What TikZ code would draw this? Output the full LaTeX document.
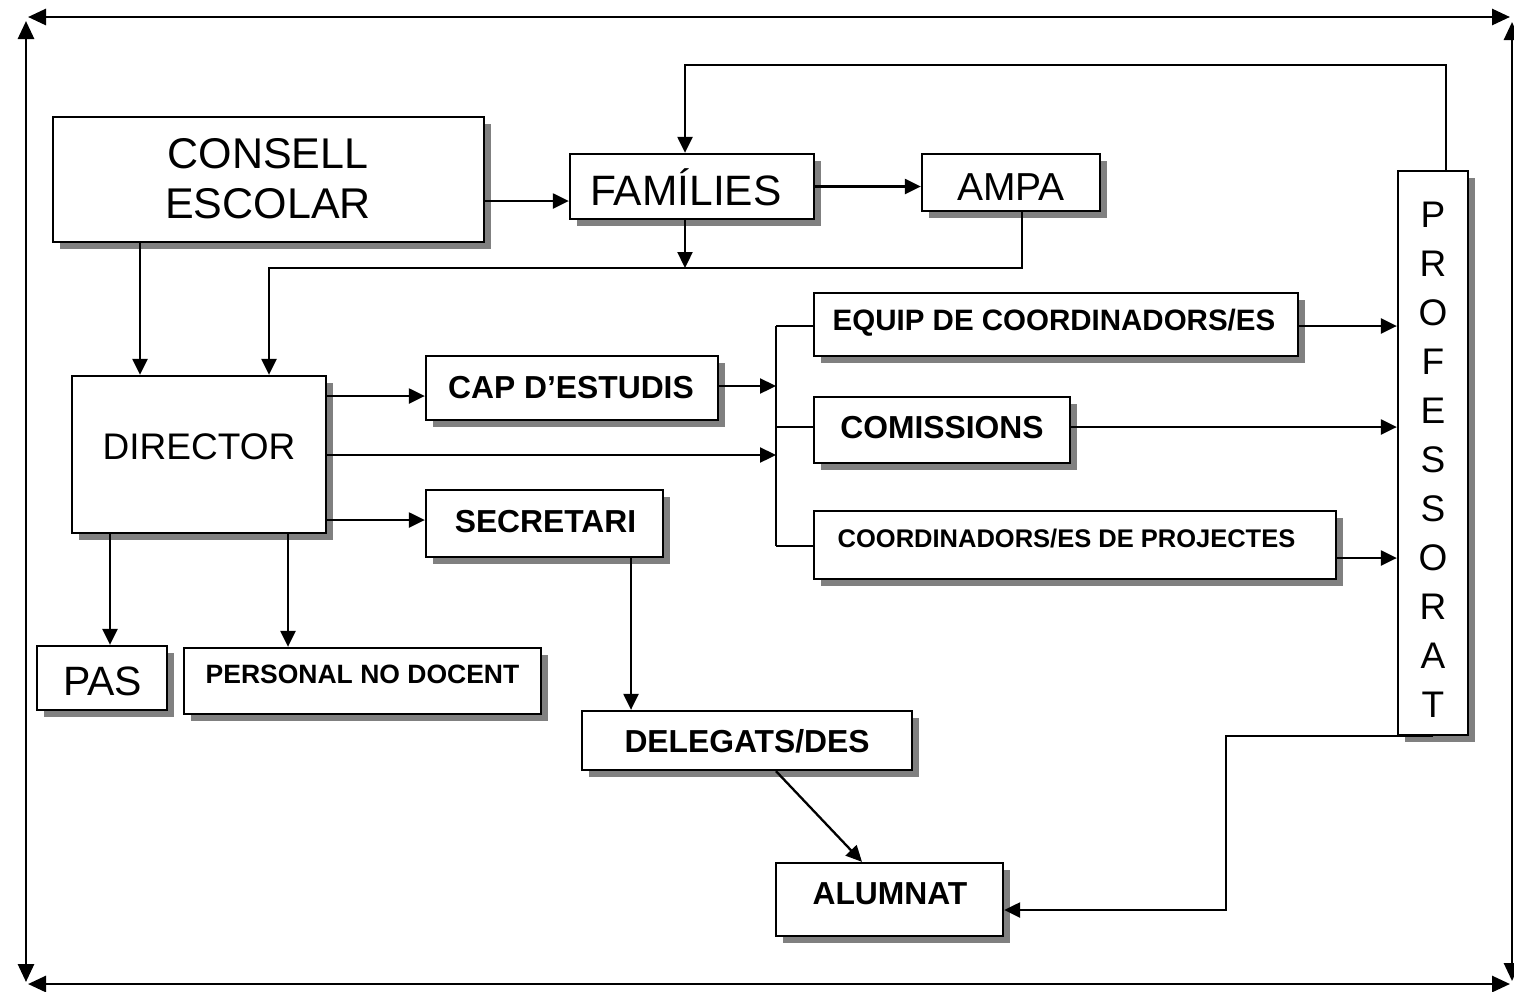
\documentclass[tikz,border=0pt]{standalone}
\usepackage{fontspec}
\setmainfont{Liberation Sans}
\usetikzlibrary{arrows.meta,shadows}
\begin{document}
\begin{tikzpicture}[x=1pt,y=-1pt,
  box/.style={draw, line width=2.3pt, fill=white, inner sep=0pt, rectangle,
     drop shadow={shadow xshift=7pt,shadow yshift=-7pt,fill=gray,opacity=1}},
  ln/.style={line width=2.3pt},
  arr/.style={line width=2.3pt, -{Triangle[length=16pt,width=15pt]}},
  frm/.style={line width=2.8pt, {Triangle[length=18pt,width=16pt]}-{Triangle[length=18pt,width=16pt]}},
  big/.style={anchor=base, inner sep=0pt, font=\fontsize{43}{49}\selectfont},
  mid/.style={anchor=base, inner sep=0pt, font=\fontsize{37}{49}\selectfont},
  bld/.style={anchor=base, inner sep=0pt, font=\fontsize{31.8}{36}\selectfont\bfseries},
  sml/.style={anchor=base, inner sep=0pt, font=\fontsize{26.5}{30}\selectfont\bfseries}
]
\useasboundingbox (0,0) rectangle (1514,991);

% outer frame
\coordinate (fTL1) at (28,17);  \coordinate (fTR1) at (1510,17);
\coordinate (fTL2) at (26,21);  \coordinate (fBL2) at (26,982);
\coordinate (fTR2) at (1512,22); \coordinate (fBR2) at (1512,981);
\coordinate (fBL1) at (28,984); \coordinate (fBR1) at (1510,984);
\draw[frm] (fTL1) -- (fTR1);
\draw[frm] (fTL2) -- (fBL2);
\draw[frm] (fTR2) -- (fBR2);
\draw[frm] (fBL1) -- (fBR1);

% boxes
\node[box, minimum width=431pt, minimum height=125pt] (consell) at (268.5,179.5) {};
\node[box, minimum width=244pt, minimum height=65pt]  (fam)     at (692,186.5) {};
\node[box, minimum width=178pt, minimum height=57pt]  (ampa)    at (1011,182.5) {};
\node[box, minimum width=70pt,  minimum height=564pt] (prof)    at (1433,453) {};
\node[box, minimum width=484pt, minimum height=63pt]  (equip)   at (1056,324.5) {};
\node[box, minimum width=292pt, minimum height=64pt]  (cap)     at (572,388) {};
\node[box, minimum width=256pt, minimum height=66pt]  (comis)   at (942,430) {};
\node[box, minimum width=254pt, minimum height=157pt] (dir)     at (199,454.5) {};
\node[box, minimum width=237pt, minimum height=67pt]  (secr)    at (544.5,523.5) {};
\node[box, minimum width=522pt, minimum height=68pt]  (coord)   at (1075,545) {};
\node[box, minimum width=130pt, minimum height=64pt]  (pas)     at (102,678) {};
\node[box, minimum width=357pt, minimum height=66pt]  (pers)    at (362.5,681) {};
\node[box, minimum width=330pt, minimum height=59pt]  (deleg)   at (747,740.5) {};
\node[box, minimum width=227pt, minimum height=73pt]  (alum)    at (889.5,899.5) {};

% texts
\node[big] (consellA) at (268,168) {CONSELL};
\node[big] (consellB) at (268,218) {ESCOLAR};
\node[big, font=\fontsize{42.5}{49}\selectfont] (famT) at (686,205) {FAMÍLIES};
\node[big, font=\fontsize{39}{42}\selectfont] (ampaT) at (1011,200) {AMPA};
\node[mid] (dirT) at (199,459) {DIRECTOR};
\node[mid, font=\fontsize{41}{42}\selectfont] (pasT) at (102.5,695) {PAS};
\node[bld, font=\fontsize{29.5}{36}\selectfont\bfseries] (equipT) at (1054,330) {EQUIP DE COORDINADORS/ES};
\node[bld] (capT) at (571,398) {CAP D’ESTUDIS};
\node[bld] (comisT) at (942,438) {COMISSIONS};
\node[bld] (secrT) at (545.5,532) {SECRETARI};
\node[sml, font=\fontsize{25.5}{30}\selectfont\bfseries] (coordT) at (1066.5,547) {COORDINADORS/ES DE PROJECTES};
\node[sml] (persT) at (362.5,683) {PERSONAL NO DOCENT};
\node[bld] (delegT) at (747,752) {DELEGATS/DES};
\node[bld] (alumT) at (890,904) {ALUMNAT};
\foreach \l [count=\i] in {P,R,O,F,E,S,S,O,R,A,T}
  \node[mid] (profT\i) at (1433,{227+49*(\i-1)}) {\l};

% helper coordinates
\coordinate (y201) at (0,201);
\coordinate (k1) at (1446,65);
\coordinate (k2) at (685,65);
\coordinate (k3) at (685,268);
\coordinate (k4) at (1022,268);
\coordinate (k5) at (269,268);
\coordinate (k6) at (140,300);
\coordinate (y396) at (0,396);
\coordinate (y455) at (0,455);
\coordinate (y520) at (0,520);
\coordinate (y386) at (0,386);
\coordinate (bus1) at (776,326);
\coordinate (bus2) at (776,546);
\coordinate (y427) at (0,427);
\coordinate (y558) at (0,558);
\coordinate (x110) at (110,0);
\coordinate (x288) at (288,0);
\coordinate (x631) at (631,0);
\coordinate (dA) at (776,0);
\coordinate (dB) at (862,0);
\coordinate (k7) at (1226,910);

% connectors
\draw[arr] (consell.east |- y201) -- (fam.west |- y201);
\draw[arr] (fam.east) -- (ampa.west |- fam.east);
\draw[arr] (prof.north -| k1) -- (k1) -- (k2) -- (fam.north -| k2);
\draw[arr] (fam.south -| k3) -- (k3);
\draw[arr] (ampa.south -| k4) -- (k4) -- (k5) -- (dir.north -| k5);
\draw[arr] (consell.south -| k6) -- (dir.north -| k6);
\draw[arr] (dir.east |- y396) -- (cap.west |- y396);
\draw[arr] (dir.east |- y455) -- (bus1 |- y455);
\draw[arr] (dir.east |- y520) -- (secr.west |- y520);
\draw[arr] (cap.east |- y386) -- (bus1 |- y386);
\draw[ln] (bus1) -- (bus2);
\draw[ln] (bus1) -- (equip.west |- bus1);
\draw[ln] (bus1 |- y427) -- (comis.west |- y427);
\draw[ln] (bus2) -- (coord.west |- bus2);
\draw[arr] (equip.east |- bus1) -- (prof.west |- bus1);
\draw[arr] (comis.east |- y427) -- (prof.west |- y427);
\draw[arr] (coord.east |- y558) -- (prof.west |- y558);
\draw[arr] (dir.south -| x110) -- (pas.north -| x110);
\draw[arr] (dir.south -| x288) -- (pers.north -| x288);
\draw[arr] (secr.south -| x631) -- (deleg.north -| x631);
\draw[arr] (deleg.south -| dA) -- (alum.north -| dB);
\draw[arr] (prof.south) -| (k7) -- (alum.east |- k7);
\end{tikzpicture}
\end{document}
